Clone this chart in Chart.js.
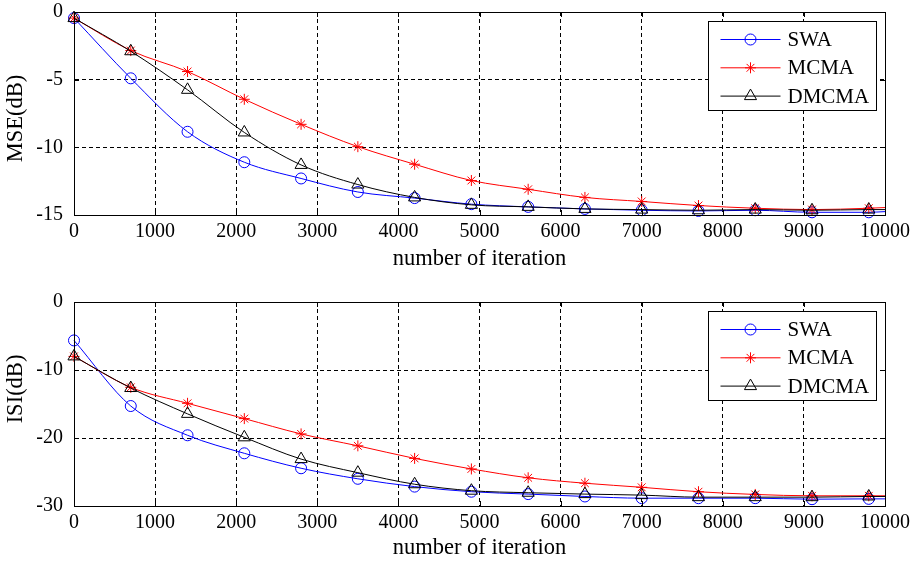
<!DOCTYPE html>
<html>
<head>
<meta charset="utf-8">
<script src="https://cdn.jsdelivr.net/npm/chart.js@4/dist/chart.umd.min.js"></script>
<style>
  html, body { margin: 0; padding: 0; background: #fff; }
  #wrap { position: relative; width: 918px; height: 562px; }
  canvas { position: absolute; left: 0; }
  #mseChart { top: 0; }
  #isiChart { top: 290px; }
</style>
</head>
<body>
<div id="wrap">
  <canvas id="mseChart" width="918" height="280"></canvas>
  <canvas id="isiChart" width="918" height="272"></canvas>
</div>
<script>
// iterations where values were read (last one has no marker)
const iterations = [0, 700, 1400, 2100, 2800, 3500, 4200, 4900, 5600, 6300, 7000, 7700, 8400, 9100, 9800, 10000];
const seriesNames = ['SWA', 'MCMA', 'DMCMA'];
const xTicks = [0, 1000, 2000, 3000, 4000, 5000, 6000, 7000, 8000, 9000, 10000];

// MSE (dB)
const mseSWA   = [-0.45, -4.9, -8.85, -11.1, -12.3, -13.3, -13.75, -14.2, -14.4, -14.55, -14.65, -14.7, -14.65, -14.8, -14.8, -14.75];
const mseMCMA  = [-0.45, -2.85, -4.4, -6.45, -8.3, -9.95, -11.25, -12.45, -13.1, -13.7, -14.0, -14.3, -14.5, -14.6, -14.5, -14.45];
const mseDMCMA = [-0.45, -2.9, -5.75, -8.9, -11.3, -12.75, -13.7, -14.25, -14.4, -14.55, -14.6, -14.65, -14.6, -14.65, -14.6, -14.6];
const mseTicks = [0, -5, -10, -15];

// ISI (dB)
const isiSWA   = [-5.65, -15.3, -19.6, -22.25, -24.45, -26.0, -27.15, -27.9, -28.25, -28.6, -28.85, -28.85, -28.85, -29.0, -28.95, -28.95];
const isiMCMA  = [-8.0, -12.55, -14.9, -17.15, -19.4, -21.15, -23.0, -24.55, -25.85, -26.65, -27.25, -27.9, -28.3, -28.5, -28.5, -28.5];
const isiDMCMA = [-8.0, -12.65, -16.45, -19.9, -23.1, -25.1, -26.8, -27.75, -28.05, -28.25, -28.4, -28.7, -28.7, -28.7, -28.6, -28.6];
const isiTicks = [0, -10, -20, -30];

const colors = ['#0000ff', '#ff0000', '#000000'];
const markers = ['circle', 'star', 'triangle'];
const markerSize = [5.5, 5.5, 7];
const serif = '"Liberation Serif", "Times New Roman", serif';

Chart.defaults.font.family = serif;
Chart.defaults.font.size = 20;
Chart.defaults.color = '#000';

// box, inner ticks, y label and legend like a matlab axes
const axesBox = {
  id: 'axesBox',
  afterDraw(chart, args, opts) {
    const ctx = chart.ctx;
    const a = chart.chartArea;
    const xs = chart.scales.x, ys = chart.scales.y;
    ctx.save();
    ctx.strokeStyle = '#000';
    ctx.lineWidth = 1;
    ctx.setLineDash([]);
    ctx.strokeRect(Math.round(a.left) + 0.5, Math.round(a.top) + 0.5,
      Math.round(a.right - a.left), Math.round(a.bottom - a.top));
    ctx.beginPath();
    xs.ticks.forEach(t => {
      const px = Math.round(xs.getPixelForValue(t.value)) + 0.5;
      ctx.moveTo(px, a.bottom); ctx.lineTo(px, a.bottom - 5);
      ctx.moveTo(px, a.top); ctx.lineTo(px, a.top + 5);
    });
    ys.ticks.forEach(t => {
      const py = Math.round(ys.getPixelForValue(t.value)) + 0.5;
      ctx.moveTo(a.left, py); ctx.lineTo(a.left + 5, py);
      ctx.moveTo(a.right, py); ctx.lineTo(a.right - 5, py);
    });
    ctx.stroke();

    // y label (matlab puts it a bit off centre)
    ctx.save();
    ctx.translate(16, (a.top + a.bottom) / 2 + opts.yTitleShift);
    ctx.rotate(-Math.PI / 2);
    ctx.font = '22.5px ' + serif;
    ctx.fillStyle = '#000';
    ctx.textAlign = 'center';
    ctx.textBaseline = 'middle';
    ctx.fillText(opts.yTitle, 0, 0);
    ctx.restore();

    // legend
    const w = 168, h = 89;
    const bx = Math.round(a.right - 9 - w) + 0.5;
    const by = Math.round(a.top + 9) + 0.5;
    ctx.fillStyle = '#fff';
    ctx.fillRect(bx, by, w, h);
    ctx.strokeRect(bx, by, w, h);
    ctx.font = '21px ' + serif;
    ctx.textBaseline = 'middle';
    ctx.textAlign = 'left';
    seriesNames.forEach((name, i) => {
      const cy = by + 18 + i * 28.3;
      ctx.strokeStyle = colors[i];
      ctx.lineWidth = 1;
      ctx.beginPath();
      ctx.moveTo(bx + 12, cy); ctx.lineTo(bx + 72, cy);
      ctx.stroke();
      ctx.fillStyle = 'rgba(0,0,0,0)';
      Chart.helpers.drawPoint(ctx, {
        pointStyle: markers[i], radius: markerSize[i], rotation: 0, borderWidth: 1
      }, bx + 42, cy);
      ctx.fillStyle = '#000';
      ctx.fillText(name, bx + 79, cy + 1);
    });
    ctx.restore();
  }
};

function makeChart(id, yTitle, yTicks, data, xHeight, titlePad, yShift) {
  const datasets = data.map((vals, i) => ({
    label: seriesNames[i],
    data: iterations.map((x, k) => ({ x: x, y: vals[k] })),
    borderColor: colors[i],
    backgroundColor: 'rgba(0,0,0,0)',
    borderWidth: 1,
    pointStyle: markers[i],
    pointRadius: ctx => ctx.dataIndex === iterations.length - 1 ? 0 : markerSize[i],
    pointBorderColor: colors[i],
    pointBackgroundColor: 'rgba(0,0,0,0)',
    pointBorderWidth: 1,
    cubicInterpolationMode: 'monotone',
    clip: false,
    order: 2 - i
  }));

  return new Chart(document.getElementById(id), {
    type: 'line',
    data: { datasets: datasets },
    options: {
      responsive: false,
      animation: false,
      devicePixelRatio: 1,
      layout: { padding: { top: 12, right: 33, left: 0, bottom: 0 } },
      plugins: {
        legend: { display: false },
        tooltip: { enabled: false },
        axesBox: { yTitle: yTitle, yTitleShift: yShift }
      },
      scales: {
        x: {
          type: 'linear',
          min: 0,
          max: 10000,
          afterBuildTicks: scale => { scale.ticks = xTicks.map(v => ({ value: v })); },
          ticks: { padding: 5, maxRotation: 0, callback: v => String(v) },
          grid: { color: '#000', lineWidth: 1, drawTicks: false },
          border: { display: true, color: '#000', dash: [4, 3] },
          title: {
            display: true, text: 'number of iteration',
            font: { size: 22.5 },
            padding: { top: 0, bottom: titlePad }
          },
          afterFit: scale => {
            scale.height = xHeight;
            scale.paddingLeft = 0;
            scale.paddingRight = 0;
          }
        },
        y: {
          type: 'linear',
          min: yTicks[yTicks.length - 1],
          max: yTicks[0],
          afterBuildTicks: scale => { scale.ticks = yTicks.map(v => ({ value: v })); },
          ticks: { padding: 11, callback: v => String(v) },
          grid: { color: '#000', lineWidth: 1, drawTicks: false },
          border: { display: true, color: '#000', dash: [4, 3] },
          afterFit: scale => {
            scale.width = 74;
            scale.paddingTop = 0;
            scale.paddingBottom = 0;
          }
        }
      }
    },
    plugins: [axesBox]
  });
}

makeChart('mseChart', 'MSE(dB)', mseTicks, [mseSWA, mseMCMA, mseDMCMA], 65, 7, 5);
makeChart('isiChart', 'ISI(dB)', isiTicks, [isiSWA, isiMCMA, isiDMCMA], 56, 0, -15);
</script>
</body>
</html>
